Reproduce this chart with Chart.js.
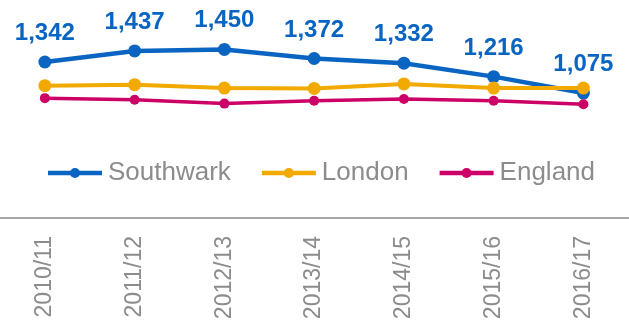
<!DOCTYPE html>
<html>
<head>
<meta charset="utf-8">
<script src="https://cdn.jsdelivr.net/npm/chart.js@4/dist/chart.umd.min.js"></script>
<style>
  html, body { margin: 0; padding: 0; background: #ffffff; }
  canvas { display: block; }
</style>
</head>
<body>
<canvas id="chart" width="629" height="324"></canvas>
<script>
// Years on the category axis
const years = ['2010/11', '2011/12', '2012/13', '2013/14', '2014/15', '2015/16', '2016/17'];

// Rates per year for each area
const southwark = [1342, 1437, 1450, 1372, 1332, 1216, 1075];
const london    = [1138, 1147, 1118, 1115, 1153, 1118, 1118];
const england   = [1031, 1017,  984, 1008, 1023, 1008,  979];

const seriesNames  = ['Southwark', 'London', 'England'];
const seriesColors = ['#0A64C1', '#F2A900', '#CC0066'];

const FONT = '"Liberation Sans", Arial, sans-serif';
const GREY = '#8C8C8C';
const fmt = new Intl.NumberFormat('en-US');

// Bold value labels above the Southwark points
const valueLabels = {
  id: 'valueLabels',
  afterDatasetsDraw(chart) {
    const meta = chart.getDatasetMeta(0);
    const values = chart.data.datasets[0].data;
    const ctx = chart.ctx;
    ctx.save();
    ctx.font = 'bold 24px ' + FONT;
    ctx.fillStyle = chart.data.datasets[0].borderColor;
    ctx.textAlign = 'center';
    ctx.textBaseline = 'alphabetic';
    meta.data.forEach((pt, i) => {
      ctx.fillText(fmt.format(values[i]), pt.x, pt.y - 22);
    });
    ctx.restore();
  }
};

// Legend row sitting inside the plot, under the lines: line-with-dot marker + name
const lineLegend = {
  id: 'lineLegend',
  afterDraw(chart, args, opts) {
    const ctx = chart.ctx;
    let x = opts.x;
    const y = opts.y;
    ctx.save();
    ctx.font = opts.fontSize + 'px ' + FONT;
    ctx.textBaseline = 'middle';
    ctx.textAlign = 'left';
    chart.data.datasets.forEach(ds => {
      ctx.strokeStyle = ds.borderColor;
      ctx.lineWidth = 4.5;
      ctx.lineCap = 'butt';
      ctx.beginPath();
      ctx.moveTo(x, y);
      ctx.lineTo(x + opts.markerWidth, y);
      ctx.stroke();
      ctx.fillStyle = ds.borderColor;
      ctx.beginPath();
      ctx.arc(x + opts.markerWidth / 2, y, 5, 0, Math.PI * 2);
      ctx.fill();
      const tx = x + opts.markerWidth + opts.textGap;
      ctx.fillStyle = GREY;
      ctx.fillText(ds.label, tx, y);
      x = tx + ctx.measureText(ds.label).width + opts.itemGap;
    });
    ctx.restore();
  }
};

function series(i, data, width, radius, order) {
  return {
    label: seriesNames[i],
    data: data,
    borderColor: seriesColors[i],
    backgroundColor: seriesColors[i],
    pointBackgroundColor: seriesColors[i],
    pointBorderWidth: 0,
    borderWidth: width,
    pointRadius: radius,
    tension: 0,
    clip: false,
    order: order
  };
}

new Chart(document.getElementById('chart'), {
  type: 'line',
  data: {
    labels: years,
    datasets: [
      series(0, southwark, 4.5, 6.5, 3),
      series(1, london, 4, 6.5, 2),
      series(2, england, 3.5, 5, 1)
    ]
  },
  options: {
    responsive: false,
    animation: false,
    events: [],
    layout: { autoPadding: false, padding: { top: 32, left: 0, right: 0, bottom: 0 } },
    plugins: {
      legend: { display: false },
      tooltip: { enabled: false },
      lineLegend: { x: 48, y: 173, fontSize: 26, markerWidth: 54, textGap: 6, itemGap: 31 }
    },
    scales: {
      x: {
        offset: true,
        grid: { display: false, drawTicks: false },
        border: { display: true, color: '#A6A6A6', width: 2 },
        ticks: {
          color: GREY,
          font: { family: FONT, size: 23 },
          padding: 18,
          minRotation: 90,
          maxRotation: 90,
          autoSkip: false
        },
        // fixed band for the rotated year labels under the axis line
        afterFit(scale) {
          scale.height = 106;
        }
      },
      y: { display: false, min: 0, max: 1600 }
    }
  },
  plugins: [valueLabels, lineLegend]
});
</script>
</body>
</html>
